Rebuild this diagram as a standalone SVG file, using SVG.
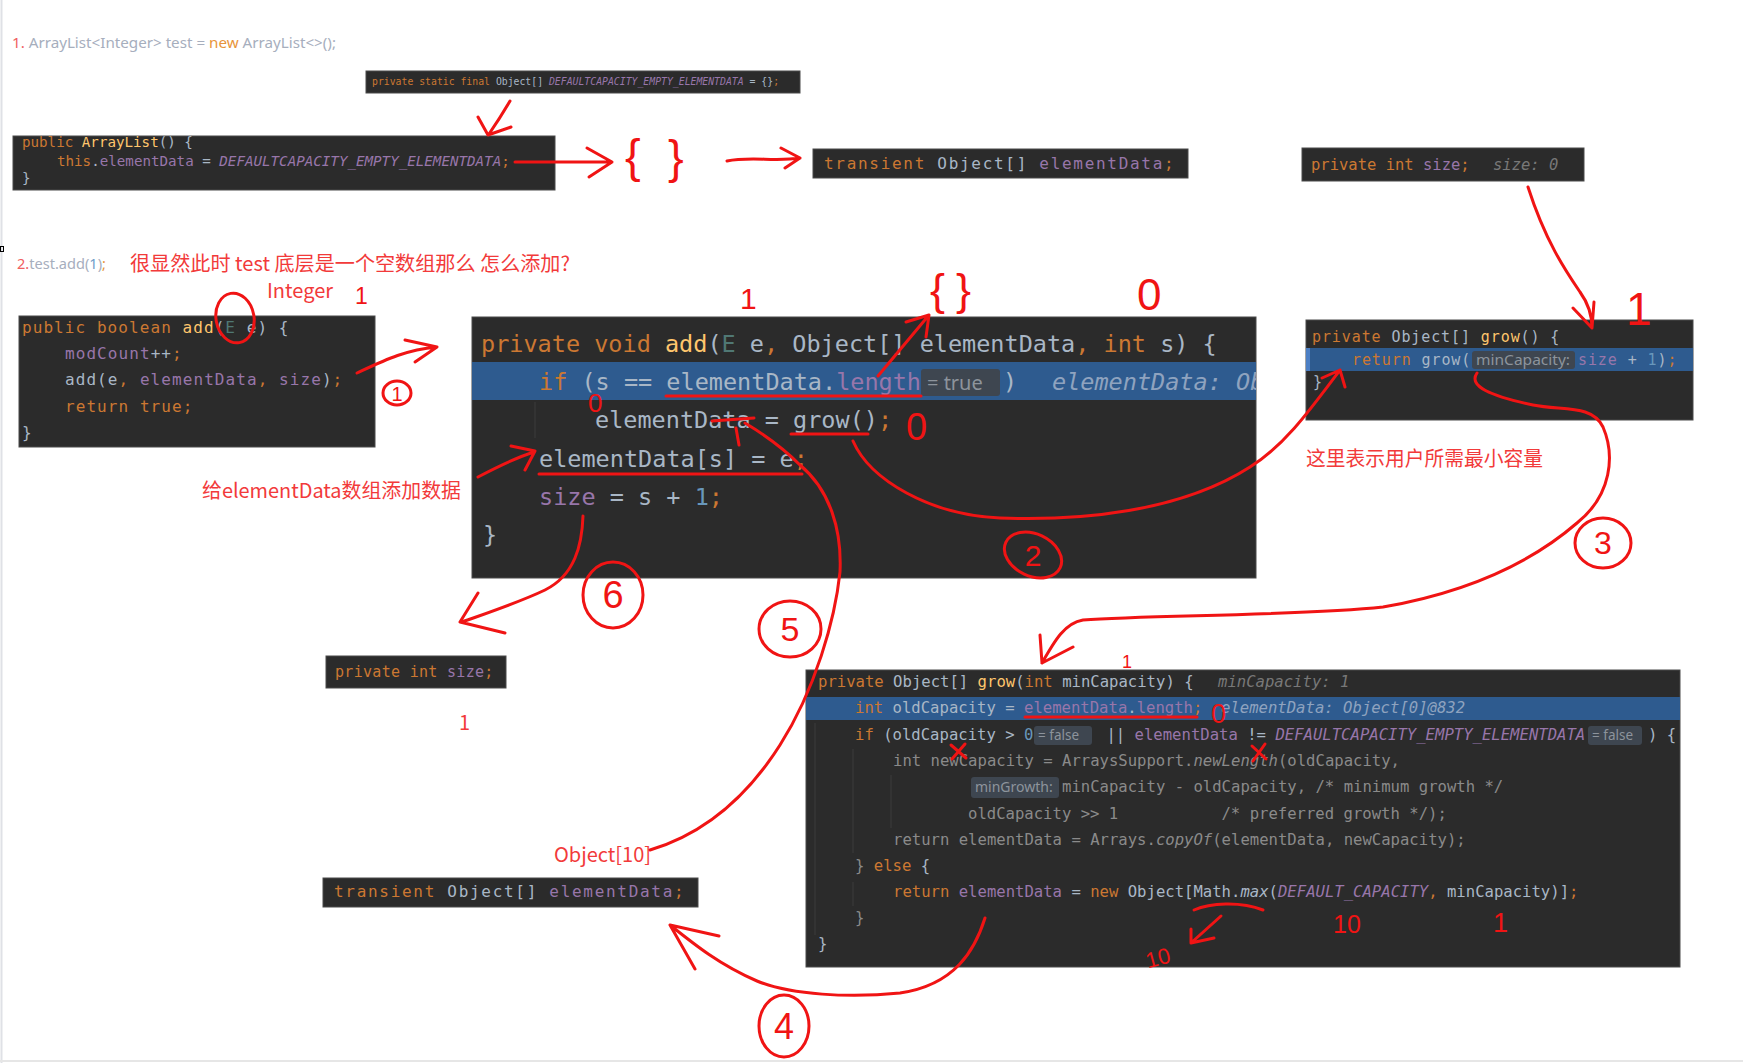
<svg xmlns="http://www.w3.org/2000/svg" width="1743" height="1063" viewBox="0 0 1743 1063">
<style>
.m{font-family:"DejaVu Sans Mono",monospace}
.k{fill:#cc7832}.f{fill:#ffc66d}.i{fill:#a9b7c6}.p{fill:#9876aa}.n{fill:#6897bb}.t{fill:#507874}
.g{fill:#787878;font-style:italic}.hb{fill:#8fa3bf;font-style:italic}.d{fill:#8a8a8a}.it{font-style:italic}
.box{fill:#2b2b2b;stroke:#4a4a4a;stroke-width:1}
.hl{fill:#2e5b8f}
.inl{fill:#3e4650}
.inlt{font-family:"Noto Sans",sans-serif;fill:#8d949c}
.rt{font-family:"Noto Sans CJK SC","Noto Sans",sans-serif;fill:#f23a3a}
.hw{font-family:"Liberation Sans",sans-serif;fill:#f01414}
.r{fill:none;stroke:#f01414;stroke-width:3;stroke-linecap:round;stroke-linejoin:round}
.gd{stroke:#3d3d3d;stroke-width:1}
</style>
<defs>
<clipPath id="cF"><rect x="472" y="317" width="784" height="261"/></clipPath>
</defs>
<rect width="1743" height="1063" fill="#ffffff"/>
<line x1="1.5" y1="0" x2="1.5" y2="1063" stroke="#dfe1e6" stroke-width="2"/>
<line x1="0" y1="1061" x2="1743" y2="1061" stroke="#e6e6e6" stroke-width="2"/>
<rect x="0.5" y="246.5" width="3" height="5" fill="none" stroke="#000" stroke-width="1"/>

<!-- headings -->
<g id="heading1">
<text x="12" y="48" font-family="Noto Sans, sans-serif" font-size="14.5" textLength="324" lengthAdjust="spacingAndGlyphs"><tspan fill="#f06060">1.</tspan><tspan fill="#a6aebd"> ArrayList&lt;Integer&gt; test = </tspan><tspan fill="#e8943a">new</tspan><tspan fill="#a6aebd"> ArrayList&lt;&gt;();</tspan></text>
</g>
<g id="heading2">
<text x="17" y="269" font-family="Noto Sans, sans-serif" font-size="14.5" textLength="89" lengthAdjust="spacingAndGlyphs"><tspan fill="#f06060">2.</tspan><tspan fill="#a6aebd">test.add(</tspan><tspan fill="#6f9cc8">1</tspan><tspan fill="#a6aebd">)</tspan><tspan fill="#e8943a">;</tspan></text>
<text class="rt" x="130" y="271" font-size="20" textLength="440" lengthAdjust="spacingAndGlyphs">很显然此时 test 底层是一个空数组那么 怎么添加?</text>
</g>

<!-- Box A -->
<g id="boxA">
<rect class="box" x="366" y="71" width="434" height="22"/>
<text class="m" x="372" y="85" font-size="9.8"><tspan class="k">private static final </tspan><tspan class="i">Object[] </tspan><tspan class="p it">DEFAULTCAPACITY_EMPTY_ELEMENTDATA</tspan><tspan class="i"> = {}</tspan><tspan class="k">;</tspan></text>
</g>

<!-- Box B -->
<g id="boxB">
<rect class="box" x="13" y="136" width="542" height="54"/>
<text class="m" x="22" y="147" font-size="14.2"><tspan class="k">public </tspan><tspan class="f">ArrayList</tspan><tspan class="i">() {</tspan></text>
<text class="m" x="57" y="166" font-size="14.2"><tspan class="k">this</tspan><tspan class="i">.</tspan><tspan class="p">elementData</tspan><tspan class="i"> = </tspan><tspan class="p it">DEFAULTCAPACITY_EMPTY_ELEMENTDATA</tspan><tspan class="k">;</tspan></text>
<text class="m i" x="22" y="183" font-size="14.2">}</text>
</g>

<!-- Box C -->
<g id="boxC">
<rect class="box" x="813" y="149" width="375" height="29"/>
<text class="m" x="824" y="169" font-size="16" letter-spacing="1.7"><tspan class="k">transient </tspan><tspan class="i">Object[] </tspan><tspan class="p">elementData</tspan><tspan class="k">;</tspan></text>
</g>

<!-- Box D -->
<g id="boxD">
<rect class="box" x="1302" y="148" width="282" height="33"/>
<text class="m" x="1311" y="170" font-size="15.5"><tspan class="k">private int </tspan><tspan class="p">size</tspan><tspan class="k">;</tspan></text>
<text class="m g" x="1493" y="170" font-size="15.5" fill="#6e6e6e">size: 0</text>
</g>

<!-- Box E -->
<g id="boxE">
<rect class="box" x="19" y="316" width="356" height="131"/>
<g class="m" font-size="16" letter-spacing="1.07">
<text x="22" y="333"><tspan class="k">public boolean </tspan><tspan class="f">add</tspan><tspan class="i">(</tspan><tspan class="t">E</tspan><tspan class="i"> e) {</tspan></text>
<text x="65" y="359"><tspan class="p">modCount</tspan><tspan class="i">++</tspan><tspan class="k">;</tspan></text>
<text x="65" y="385"><tspan class="i">add(e</tspan><tspan class="k">, </tspan><tspan class="p">elementData</tspan><tspan class="k">, </tspan><tspan class="p">size</tspan><tspan class="i">)</tspan><tspan class="k">;</tspan></text>
<text x="65" y="412" class="k">return true;</text>
<text x="22" y="438" class="i">}</text>
</g>
</g>

<!-- Box F -->
<g id="boxF">
<rect class="box" x="472" y="317" width="784" height="261"/>
<rect class="hl" x="472" y="362" width="784" height="38"/>
<line class="gd" x1="535" y1="402" x2="535" y2="438"/>
<g class="m" font-size="23.5">
<text x="481" y="352"><tspan class="k">private void </tspan><tspan class="f">add</tspan><tspan class="i">(</tspan><tspan class="t">E</tspan><tspan class="i"> e</tspan><tspan class="k">, </tspan><tspan class="i">Object[] elementData</tspan><tspan class="k">, int </tspan><tspan class="i">s) {</tspan></text>
<text x="539" y="390"><tspan class="k">if </tspan><tspan class="i">(s == elementData.</tspan><tspan class="p">length</tspan></text>
<text x="1003" y="390" class="i">)</text>
<text x="1052" y="390" class="hb" clip-path="url(#cF)">elementData: Object[0]</text>
<text x="595" y="428"><tspan class="i">elementData = grow()</tspan><tspan class="k">;</tspan></text>
<text x="539" y="467"><tspan class="i">elementData[s] = e</tspan><tspan class="k">;</tspan></text>
<text x="539" y="505"><tspan class="p">size</tspan><tspan class="i"> = s + </tspan><tspan class="n">1</tspan><tspan class="k">;</tspan></text>
<text x="483" y="543" class="i">}</text>
</g>
<rect class="inl" x="921" y="369" width="79" height="27" rx="3"/>
<text class="inlt" x="927" y="390" font-size="20">= true</text>
</g>

<!-- Box J grow() -->
<g id="boxJ">
<rect class="box" x="1306" y="320" width="387" height="100"/>
<rect class="hl" x="1306" y="348" width="387" height="23"/>
<rect x="1306" y="348" width="4" height="23" fill="#4c7fc4"/>
<g class="m" font-size="15" letter-spacing="0.9">
<text x="1312" y="342"><tspan class="k">private </tspan><tspan class="i">Object[] </tspan><tspan class="f">grow</tspan><tspan class="i">() {</tspan></text>
<text x="1352" y="365"><tspan class="k">return </tspan><tspan class="i">grow(</tspan></text>
<text x="1578" y="365"><tspan class="p">size</tspan><tspan class="i"> + </tspan><tspan class="n">1</tspan><tspan class="i">)</tspan><tspan class="k">;</tspan></text>
<text x="1313" y="387" class="i">}</text>
</g>
<rect class="inl" x="1472" y="351" width="103" height="18" rx="3"/>
<text class="inlt" x="1476" y="365" font-size="14" textLength="94" lengthAdjust="spacingAndGlyphs">minCapacity:</text>
</g>

<!-- Box G -->
<g id="boxG">
<rect class="box" x="326" y="656" width="180" height="32"/>
<text class="m" x="335" y="677" font-size="15" letter-spacing="0.3"><tspan class="k">private int </tspan><tspan class="p">size</tspan><tspan class="k">;</tspan></text>
</g>

<!-- Box H -->
<g id="boxH">
<rect class="box" x="323" y="878" width="375" height="29"/>
<text class="m" x="334" y="897" font-size="16" letter-spacing="1.7"><tspan class="k">transient </tspan><tspan class="i">Object[] </tspan><tspan class="p">elementData</tspan><tspan class="k">;</tspan></text>
</g>

<!-- Box I grow(int) -->
<g id="boxI">
<rect class="box" x="806" y="670" width="874" height="297"/>
<rect class="hl" x="806" y="697" width="874" height="23"/>
<line class="gd" x1="815" y1="723" x2="815" y2="935"/>
<line class="gd" x1="853" y1="749" x2="853" y2="853"/>
<line class="gd" x1="891" y1="775" x2="891" y2="828"/>
<line class="gd" x1="853" y1="882" x2="853" y2="906"/>
<g class="m" font-size="15.6">
<text x="818" y="687"><tspan class="k">private </tspan><tspan class="i">Object[] </tspan><tspan class="f">grow</tspan><tspan class="i">(</tspan><tspan class="k">int </tspan><tspan class="i">minCapacity) {</tspan></text>
<text x="1218" y="687" class="g" fill="#6e737a">minCapacity: 1</text>
<text x="855" y="713"><tspan class="k">int </tspan><tspan class="i">oldCapacity = </tspan><tspan class="p">elementData</tspan><tspan class="i">.</tspan><tspan class="p">length</tspan><tspan class="k">;</tspan></text>
<text x="1221" y="713" class="hb">elementData: Object[0]@832</text>
<text x="855" y="740"><tspan class="k">if </tspan><tspan class="i">(oldCapacity &gt; </tspan><tspan class="n">0</tspan></text>
<text x="1097" y="740" xml:space="preserve"><tspan class="i"> || </tspan><tspan class="p">elementData</tspan><tspan class="i"> != </tspan><tspan class="p it">DEFAULTCAPACITY_EMPTY_ELEMENTDATA</tspan></text>
<text x="1648" y="740" class="i">) {</text>
<text x="893" y="766" class="d">int newCapacity = ArraysSupport.<tspan class="it">newLength</tspan>(oldCapacity,</text>
<text x="1062" y="792" class="d">minCapacity - oldCapacity, /* minimum growth */</text>
<text x="968" y="819" class="d" xml:space="preserve">oldCapacity &gt;&gt; 1           /* preferred growth */);</text>
<text x="893" y="845" class="d">return elementData = Arrays.<tspan class="it">copyOf</tspan>(elementData, newCapacity);</text>
<text x="855" y="871"><tspan class="d">} </tspan><tspan class="k">else </tspan><tspan class="i">{</tspan></text>
<text x="893" y="897"><tspan class="k">return </tspan><tspan class="p">elementData</tspan><tspan class="i"> = </tspan><tspan class="k">new </tspan><tspan class="i">Object[Math.</tspan><tspan class="i it">max</tspan><tspan class="i">(</tspan><tspan class="p it">DEFAULT_CAPACITY</tspan><tspan class="k">, </tspan><tspan class="i">minCapacity)]</tspan><tspan class="k">;</tspan></text>
<text x="855" y="923" class="d">}</text>
<text x="818" y="949" class="i">}</text>
</g>
<rect class="inl" x="1034" y="726" width="58" height="19" rx="3"/>
<text class="inlt" x="1038" y="740" font-size="13.5">= false</text>
<rect class="inl" x="1588" y="726" width="54" height="19" rx="3"/>
<text class="inlt" x="1592" y="740" font-size="13.5">= false</text>
<rect class="inl" x="971" y="777" width="88" height="21" rx="3"/>
<text class="inlt" x="975" y="792" font-size="14">minGrowth:</text>
</g>

<!-- red notes -->
<g id="notes">
<text class="rt" x="267" y="298" font-size="20" textLength="66" lengthAdjust="spacingAndGlyphs">Integer</text>
<text class="rt" x="202" y="498" font-size="20" textLength="259" lengthAdjust="spacingAndGlyphs">给elementData数组添加数据</text>
<text class="rt" x="1306" y="466" font-size="20" textLength="237" lengthAdjust="spacingAndGlyphs">这里表示用户所需最小容量</text>
<text class="rt" x="459" y="730" font-size="20">1</text>
<text class="rt" x="554" y="862" font-size="20" textLength="97" lengthAdjust="spacingAndGlyphs">Object[10]</text>
</g>

<!-- handwritten marks -->
<g id="handwriting">
<text class="hw" x="625" y="172" font-size="47">{</text>
<text class="hw" x="668" y="173" font-size="47">}</text>
<text class="hw" x="930" y="305" font-size="45">{</text>
<text class="hw" x="956" y="305" font-size="45">}</text>
<text class="hw" x="355" y="304" font-size="23">1</text>
<text class="hw" x="740" y="309" font-size="30">1</text>
<text class="hw" x="1626" y="325" font-size="46">1</text>
<text class="hw" x="1122" y="668" font-size="18">1</text>
<text class="hw" x="1493" y="932" font-size="27">1</text>
<text class="hw" x="1137" y="310" font-size="44">0</text>
<text class="hw" x="588" y="412" font-size="26">0</text>
<text class="hw" x="906" y="440" font-size="38">0</text>
<text class="hw" x="1211" y="723" font-size="27">0</text>
<text class="hw" x="1333" y="933" font-size="25">10</text>
<text class="hw" x="1145" y="965" font-size="22" transform="rotate(-15 1160 955)">10</text>
<ellipse class="r" cx="235" cy="318" rx="19" ry="25" transform="rotate(-10 235 318)"/>
<ellipse class="r" cx="397" cy="393" rx="14" ry="12"/>
<text class="hw" x="397" y="401" font-size="20" text-anchor="middle">1</text>
<ellipse class="r" cx="1033" cy="555" rx="30" ry="21" transform="rotate(25 1033 555)"/>
<text class="hw" x="1033" y="566" font-size="30" text-anchor="middle">2</text>
<ellipse class="r" cx="1603" cy="543" rx="28" ry="25"/>
<text class="hw" x="1603" y="554" font-size="32" text-anchor="middle">3</text>
<ellipse class="r" cx="784" cy="1026" rx="25" ry="31"/>
<text class="hw" x="784" y="1039" font-size="36" text-anchor="middle">4</text>
<ellipse class="r" cx="790" cy="629" rx="31" ry="28"/>
<text class="hw" x="790" y="641" font-size="34" text-anchor="middle">5</text>
<ellipse class="r" cx="613" cy="595" rx="30" ry="33"/>
<text class="hw" x="613" y="608" font-size="38" text-anchor="middle">6</text>
<path class="r" d="M951,745 L966,758 M965,744 L952,759"/>
<path class="r" d="M1252,746 L1266,759 M1265,744 L1253,761"/>
<path class="r" d="M666,396 L921,396 M791,434 L868,434 M539,474 L802,474 M1025,717 L1197,717"/>
</g>

<!-- connectors -->
<g id="connectors" class="r">
<path d="M510,101 Q500,118 489,134 M478,117 L488,135 L511,127"/>
<path d="M515,162 L612,162 M587,148 L612,162 L589,177"/>
<path d="M727,161 C750,156 775,162 800,158 M781,148 L800,158 L785,168"/>
<path d="M1528,187 C1545,240 1565,270 1580,292 C1588,303 1592,315 1592,328 M1573,308 L1592,328 L1594,302"/>
<path d="M357,373 C385,360 405,350 437,347 M405,340 L437,347 L415,362"/>
<path d="M878,376 L929,315 M906,322 L929,315 L926,337"/>
<path d="M478,477 C497,467 515,458 534,452 M511,446 L535,451 L525,470"/>
<path d="M853,441 C870,480 930,515 1000,518 C1080,521 1180,512 1250,467 C1285,445 1310,410 1340,370 M1322,378 L1340,370 L1345,387"/>
<path d="M1477,373 C1468,386 1490,396 1533,405 C1562,411 1592,404 1603,427 C1615,455 1612,495 1577,523 C1540,555 1480,590 1383,607 C1300,616 1150,615 1083,620 C1065,623 1055,640 1042,663 M1040,635 L1042,663 L1073,647"/>
<path d="M650,850 C700,835 745,800 780,745 C815,690 835,620 840,572 C842,530 830,490 800,465 C785,450 770,438 745,423 M712,421 L754,418 M736,428 L739,445"/>
<path d="M583,516 C582,545 575,575 545,590 C520,602 490,612 462,622 M478,593 L460,622 L505,633"/>
<path d="M985,918 C975,950 955,985 900,993 C850,998 790,995 757,981 C720,965 695,945 670,925 M719,936 L670,925 L695,969"/>
<path d="M1194,910 C1210,903 1240,901 1263,910 M1221,916 L1191,943 M1191,929 L1191,943 L1214,938"/>
</g>
</svg>
